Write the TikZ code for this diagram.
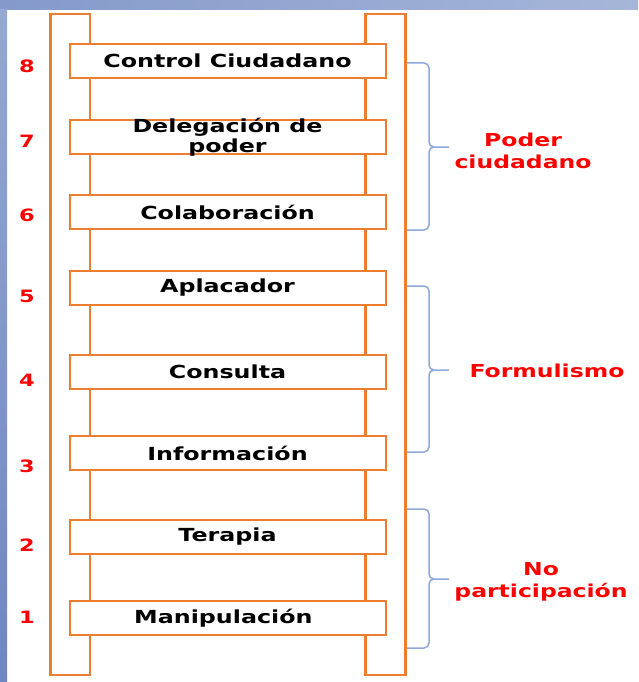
\documentclass[tikz,border=0pt]{standalone}
\usepackage{fontspec}
\newfontfamily\ladderfont{DejaVu Sans}[FakeStretch=1.32]
\definecolor{rungorange}{HTML}{ED7D31}
\definecolor{bracketblue}{HTML}{8EA9DB}
\definecolor{slideblue}{HTML}{A6B6D9}
\definecolor{slidedark}{HTML}{6E87C0}

\tikzset{%
  rail/.style={draw=rungorange, line width=2.7pt, fill=white},
  rung/.style={draw=rungorange, line width=2pt, fill=white,
    minimum width=316pt, minimum height=34pt, inner sep=0pt},
  rungtext/.style={font=\ladderfont\bfseries\fontsize{18}{20}\selectfont, align=center},
  level/.style={font=\ladderfont\bfseries\fontsize{17}{17}\selectfont, text=red},
  group/.style={font=\ladderfont\bfseries\fontsize{17.8}{22}\selectfont, text=red, align=center},
  bracket/.style={draw=bracketblue, line width=1.5pt, rounded corners=5pt}
}

\begin{document}
\begin{tikzpicture}[x=1pt,y=-1pt]
  \useasboundingbox (0,0) rectangle (638,682);
  \fill[white] (0,0) rectangle (638,682);
  \shade[left color=slidedark!60!slideblue, right color=slideblue] (0,0) rectangle (638,10);
  \shade[top color=slideblue!70!slidedark, bottom color=slidedark] (0,10) rectangle (7,682);

  % rails
  \draw[rail] (50.5,14) rectangle (90,675);
  \draw[rail] (365.5,14) rectangle (405.5,675);

  % rungs and levels
  \foreach \i/\y/\ny/\t in
    { 8/61/66/{Control Ciudadano},
      7/137/141/{Delegación de\\poder},
      6/212/215/{Colaboración},
      5/288/296/{Aplacador},
      4/372/380/{Consulta},
      3/453/466/{Información},
      2/537/545/{Terapia},
      1/618/617/{Manipulación}
    }
    {
      \node[rung] (b\i) at (227.5,\y) {};
      \node[rungtext] (t\i) at (b\i) {\t};
      \node[level] (n\i) at (27,\ny) {\i};
    }

  % groups
  \node[group] (g1) at (523,151) {Poder\\ciudadano};
  \node[group] (g2) at (547,371) {Formulismo};
  \node[group] (g3) at (541,582) {No\\participación};

  \coordinate (g1top) at (407,63);   \coordinate (g1bot) at (407,230);
  \coordinate (g1mid) at (429,147);  \coordinate (g1tip) at (449,147);
  \coordinate (g2top) at (407,286);  \coordinate (g2bot) at (407,452);
  \coordinate (g2mid) at (429,370);  \coordinate (g2tip) at (449,370);
  \coordinate (g3top) at (407,509);  \coordinate (g3bot) at (407,648);
  \coordinate (g3mid) at (429,579);  \coordinate (g3tip) at (449,579);

  \foreach \g in {g1,g2,g3}
    \draw[bracket] (\g top) -| (\g mid) -- (\g tip) (\g bot) -| (\g mid) -- (\g tip);
\end{tikzpicture}
\end{document}
